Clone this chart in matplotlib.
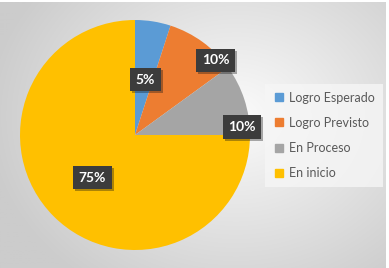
import numpy as np
import matplotlib.pyplot as plt
import matplotlib.patheffects as pe
from matplotlib.lines import Line2D

plt.rcParams['font.family'] = ['Lato', 'DejaVu Sans']

categorias = ["Logro Esperado", "Logro Previsto", "En Proceso", "En inicio"]
valores = [5, 10, 10, 75]
etiquetas = ["5%", "10%", "10%", "75%"]
colores = ["#5B9BD5", "#ED7D31", "#A5A5A5", "#FFC000"]

# where office put the data labels (in pie radius units)
pos_etiquetas = [(0.09, 0.48), (0.70, 0.65), (0.93, 0.07), (-0.37, -0.37)]

fig = plt.figure(figsize=(3.89, 2.68), dpi=100, facecolor="white")

# gray radial background
bg = fig.add_axes([0.0, 0.0, 0.99, 0.993])
yy, xx = np.mgrid[0:268, 0:385]
d = np.sqrt(((xx - 235) / 230.0) ** 2 + ((yy - 115) / 190.0) ** 2)
g = np.clip(0.985 - 0.17 * d, 0.80, 1.0)
bg.imshow(np.dstack([g, g, g]), aspect="auto", extent=[0, 1, 0, 1])
bg.set_axis_off()

ax = fig.add_axes([20 / 389, 18 / 268, 230 / 389, 230 / 268])
wedges, _ = ax.pie(valores, colors=colores, startangle=90, counterclock=False,
                   radius=1, wedgeprops=dict(linewidth=0))
ax.set_xlim(-1, 1)
ax.set_ylim(-1, 1)
ax.set_aspect("equal")
ax.set_axis_off()

for txt, (x, y) in zip(etiquetas, pos_etiquetas):
    ax.text(x, y, txt, ha="center", va="center", color="white", fontsize=10,
            fontweight="bold", zorder=5,
            bbox=dict(boxstyle="square,pad=0.4", fc="#3c3c3c", ec="none",
                      path_effects=[pe.withSimplePatchShadow(offset=(1.5, -1.5), alpha=0.35)]))

handles = [Line2D([], [], marker="s", ls="none", color=c, markersize=5.5) for c in colores]
leg = fig.legend(handles, categorias, loc="center left", bbox_to_anchor=(265 / 389, 0.495),
                 frameon=True, fancybox=False, fontsize=9, labelspacing=1.05,
                 handletextpad=0.35, handlelength=1.0, borderpad=0.6, borderaxespad=0,
                 labelcolor="#595959")
leg.get_frame().set_facecolor("#f6f6f6")
leg.get_frame().set_edgecolor("none")
leg.get_frame().set_alpha(0.8)

fig.savefig("out.png", dpi=100)
